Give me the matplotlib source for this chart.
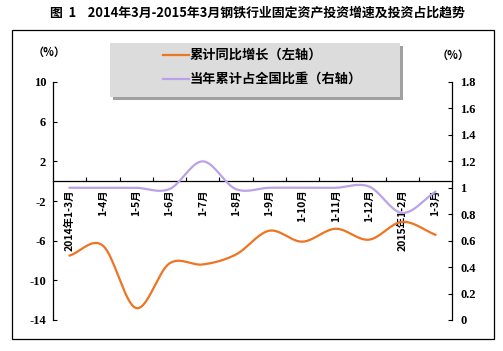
import numpy as np
import matplotlib
matplotlib.use("Agg")
import matplotlib.pyplot as plt
from matplotlib.patches import Rectangle
from matplotlib.lines import Line2D

plt.rcParams['font.family'] = ['Noto Sans CJK SC', 'DejaVu Sans']

categories = ["2014年1-3月", "1-4月", "1-5月", "1-6月", "1-7月", "1-8月", "1-9月",
              "1-10月", "1-11月", "1-12月", "2015年1-2月", "1-3月"]
growth = [-7.5, -6.5, -12.8, -8.3, -8.4, -7.4, -5.0, -6.1, -4.8, -5.9, -4.1, -5.4]
share = [1.0, 1.0, 1.0, 0.99, 1.2, 0.99, 1.0, 1.0, 1.0, 1.01, 0.81, 0.97]
left_ticks = [10, 6, 2, -2, -6, -10, -14]
right_ticks = [0, 0.2, 0.4, 0.6, 0.8, 1.0, 1.2, 1.4, 1.6, 1.8]
right_labels = ["0", "0.2", "0.4", "0.6", "0.8", "1", "1.2", "1.4", "1.6", "1.8"]
title = "图  1    2014年3月-2015年3月钢铁行业固定资产投资增速及投资占比趋势"
legend_labels = ["累计同比增长（左轴）", "当年累计占全国比重（右轴）"]

orange = "#EE7422"
purple = "#BBA2E8"


def smooth(y, n=20):
    y = np.asarray(y, float)
    p = np.concatenate([[2 * y[0] - y[1]], y, [2 * y[-1] - y[-2]]])
    xs, ys = [], []
    for i in range(len(y) - 1):
        p0, p1, p2, p3 = p[i], p[i + 1], p[i + 2], p[i + 3]
        t = np.linspace(0, 1, n, endpoint=False)
        v = 0.5 * ((2 * p1) + (-p0 + p2) * t + (2 * p0 - 5 * p1 + 4 * p2 - p3) * t ** 2
                   + (-p0 + 3 * p1 - 3 * p2 + p3) * t ** 3)
        xs.append(i + t)
        ys.append(v)
    xs.append([len(y) - 1])
    ys.append([y[-1]])
    return np.concatenate(xs), np.concatenate(ys)


W, H = 503, 351
fig = plt.figure(figsize=(W / 100, H / 100), dpi=100)

# outer frame
fig.patches.append(Rectangle((12 / W, 1 - 339 / H), (494 - 12) / W, (339 - 30) / H,
                             transform=fig.transFigure, fill=False, edgecolor='black', lw=0.9))

fig.text(257 / W, 1 - 13 / H, title, ha='center', va='center', fontsize=9.3, fontweight='bold')

ax1 = fig.add_axes([53 / W, 1 - 320 / H, (452 - 53) / W, (320 - 82) / H])
ax2 = ax1.twinx()
ax1.patch.set_visible(False)

x = np.arange(len(categories))
sx, sy = smooth(growth)
ax1.plot(sx, sy, color=orange, lw=1.6, zorder=3)
sx2, sy2 = smooth(share)
ax2.plot(sx2, sy2, color=purple, lw=1.6, zorder=3)

ax1.set_xlim(-0.5, len(categories) - 0.5)
ax1.set_ylim(-14, 10)
ax2.set_ylim(0, 1.8)

for s in ['top', 'right']:
    ax1.spines[s].set_visible(False)
ax1.spines['bottom'].set_position(('data', 0))
for s in ['top', 'left', 'bottom']:
    ax2.spines[s].set_visible(False)
for sp in list(ax1.spines.values()) + list(ax2.spines.values()):
    sp.set_linewidth(0.9)

tickfont = dict(family='Liberation Serif', weight='bold', size=9)
ax1.set_yticks(left_ticks)
ax1.set_yticklabels([str(v) for v in left_ticks], fontdict=tickfont)
ax1.tick_params(axis='y', direction='in', length=3, width=0.8, pad=5)
ax2.set_yticks(right_ticks)
ax2.set_yticklabels(right_labels, fontdict=tickfont)
ax2.tick_params(axis='y', direction='in', length=3, width=0.8, pad=6)

ax1.set_xticks(x)
ax1.set_xticklabels(categories, rotation=90, fontsize=7.5, fontweight='bold', va='top')
ax1.set_xticks(x[:-1] + 0.5, minor=True)
ax1.tick_params(axis='x', which='major', length=0, pad=6)
ax1.tick_params(axis='x', which='minor', direction='in', length=3, width=0.8)

fig.text(49 / W, 1 - 52 / H, "（%）", ha='center', va='center', fontsize=8, fontweight='bold')
fig.text(453 / W, 1 - 55 / H, "（%）", ha='center', va='center', fontsize=8, fontweight='bold')

# legend box
lx0, ly0, lx1, ly1 = 110, 43, 400, 97
fig.patches.append(Rectangle(((lx0 + 3) / W, 1 - (ly1 + 3) / H), (lx1 - lx0) / W, (ly1 - ly0) / H,
                             transform=fig.transFigure, facecolor='#a0a0a0', edgecolor='none', zorder=5))
fig.patches.append(Rectangle((lx0 / W, 1 - ly1 / H), (lx1 - lx0) / W, (ly1 - ly0) / H,
                             transform=fig.transFigure, facecolor='#dcdcdc', edgecolor='none', zorder=6))
for i, (lab, col) in enumerate(zip(legend_labels, [orange, purple])):
    yy = 1 - (55 + 24 * i) / H
    fig.lines.append(Line2D([163 / W, 189 / W], [yy, yy], transform=fig.transFigure,
                            color=col, lw=1.6, zorder=7))
    fig.text(190 / W, yy, lab, ha='left', va='center', fontsize=9.5, fontweight='bold', zorder=8)

fig.savefig("out.png", dpi=100)
